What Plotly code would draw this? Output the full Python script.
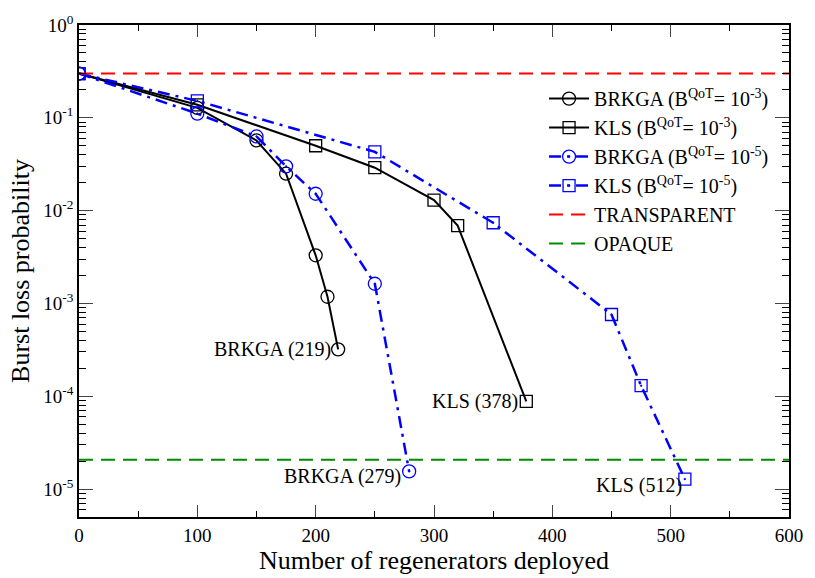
import plotly.graph_objects as go
import math

# ---- data ----
brkga3_x = [0, 100, 150, 175, 200, 210, 219]
brkga3_y = [0.3, 0.128, 0.057, 0.025, 0.0033, 0.00118, 0.00032]

kls3_x = [0, 100, 200, 250, 300, 320, 378]
kls3_y = [0.3, 0.138, 0.050, 0.029, 0.013, 0.0069, 8.8e-5]

brkga5_x = [0, 100, 150, 175, 200, 250, 279]
brkga5_y = [0.3, 0.111, 0.063, 0.030, 0.0152, 0.00163, 1.55e-5]

kls5_x = [0, 100, 250, 350, 450, 475, 512]
kls5_y = [0.3, 0.152, 0.043, 0.0074, 0.00076, 0.00013, 1.28e-5]

transparent_y = 0.3
opaque_y = 2.07e-5
x_span = [0, 600]

series_names = [
    "BRKGA (B<sup>QoT</sup>= 10<sup>-3</sup>)",
    "KLS (B<sup>QoT</sup>= 10<sup>-3</sup>)",
    "BRKGA (B<sup>QoT</sup>= 10<sup>-5</sup>)",
    "KLS (B<sup>QoT</sup>= 10<sup>-5</sup>)",
    "TRANSPARENT",
    "OPAQUE",
]

end_labels = ["BRKGA (219)", "KLS (378)", "BRKGA (279)", "KLS (512)"]

x_ticks = [0, 100, 200, 300, 400, 500, 600]
y_tickvals = [1, 1e-1, 1e-2, 1e-3, 1e-4, 1e-5]
y_ticktext = ["10<sup>0</sup>", "10<sup>-1</sup>", "10<sup>-2</sup>",
              "10<sup>-3</sup>", "10<sup>-4</sup>", "10<sup>-5</sup>"]

FONT = "Liberation Serif"
BLUE = "#0000ff"

fig = go.Figure()

fig.add_trace(go.Scatter(
    x=brkga3_x, y=brkga3_y, name=series_names[0], mode="lines+markers",
    line=dict(color="black", width=2),
    marker=dict(symbol="circle-open", size=13, color="black", line=dict(width=1.3)),
))
fig.add_trace(go.Scatter(
    x=kls3_x, y=kls3_y, name=series_names[1], mode="lines+markers",
    line=dict(color="black", width=2),
    marker=dict(symbol="square-open", size=12, color="black", line=dict(width=1.3)),
))
fig.add_trace(go.Scatter(
    x=brkga5_x, y=brkga5_y, name=series_names[2], mode="lines+markers",
    line=dict(color=BLUE, width=2.5, dash="12px,6px,3px,6px"),
    marker=dict(symbol="circle-open-dot", size=13, color=BLUE, line=dict(width=1.3)),
))
fig.add_trace(go.Scatter(
    x=kls5_x, y=kls5_y, name=series_names[3], mode="lines+markers",
    line=dict(color=BLUE, width=2.5, dash="12px,6px,3px,6px"),
    marker=dict(symbol="square-open-dot", size=12, color=BLUE, line=dict(width=1.3)),
))
fig.add_trace(go.Scatter(
    x=x_span, y=[transparent_y, transparent_y], name=series_names[4], mode="lines",
    line=dict(color="#ff0000", width=2, dash="14px,8px"),
))
fig.add_trace(go.Scatter(
    x=x_span, y=[opaque_y, opaque_y], name=series_names[5], mode="lines",
    line=dict(color="#008c00", width=2, dash="14px,8px"),
))

# end-point labels
label_pts = [
    (brkga3_x[-1], brkga3_y[-1], -5, 0, "right"),
    (kls3_x[-1], kls3_y[-1], -6, 0, "right"),
    (brkga5_x[-1], brkga5_y[-1], -6, -5, "right"),
    (kls5_x[-1], kls5_y[-1], -1, -6, "right"),
]
for (px, py, xs, ys, anc), txt in zip(label_pts, end_labels):
    fig.add_annotation(x=px, y=math.log10(py), text=txt, showarrow=False,
                       xanchor=anc, yanchor="middle", xshift=xs, yshift=ys,
                       font=dict(family=FONT, size=20, color="black"))

minor_y = [m * 10 ** e for e in range(-6, 0) for m in range(2, 10)]
minor_y = [v for v in minor_y if v >= 5e-6]

fig.update_layout(
    width=815, height=578,
    margin=dict(l=79, r=19, t=19, b=57),
    paper_bgcolor="white", plot_bgcolor="white",
    font=dict(family=FONT, size=19, color="black"),
    showlegend=True,
    legend=dict(x=0.655, y=0.89, xanchor="left", yanchor="top",
                bgcolor="rgba(0,0,0,0)", borderwidth=0,
                font=dict(family=FONT, size=20), tracegroupgap=0,
                itemwidth=40),
    xaxis=dict(
        range=[0, 600], tickvals=x_ticks, ticks="inside", ticklen=12, tickwidth=1.3,
        showline=True, linecolor="black", linewidth=1.5, mirror="ticks",
        showgrid=False, zeroline=False,
        tickfont=dict(family=FONT, size=19),
        minor=dict(tickvals=[50, 150, 250, 350, 450, 550], ticks="inside",
                   ticklen=6, tickwidth=1.3, tickcolor="black", showgrid=False),
        title=dict(text="Number of regenerators deployed",
                   font=dict(family=FONT, size=26), standoff=2),
    ),
    yaxis=dict(
        type="log", range=[math.log10(5e-6), 0],
        tickvals=y_tickvals, ticktext=y_ticktext,
        ticks="inside", ticklen=14, tickwidth=1.3,
        showline=True, linecolor="black", linewidth=1.5, mirror="ticks",
        showgrid=False, zeroline=False,
        tickfont=dict(family=FONT, size=19),
        minor=dict(tickvals=minor_y, ticks="inside", ticklen=7,
                   tickwidth=1.3, tickcolor="black", showgrid=False),
        title=dict(text="Burst loss probability",
                   font=dict(family=FONT, size=26), standoff=6),
    ),
)

fig.write_html("out.html")
